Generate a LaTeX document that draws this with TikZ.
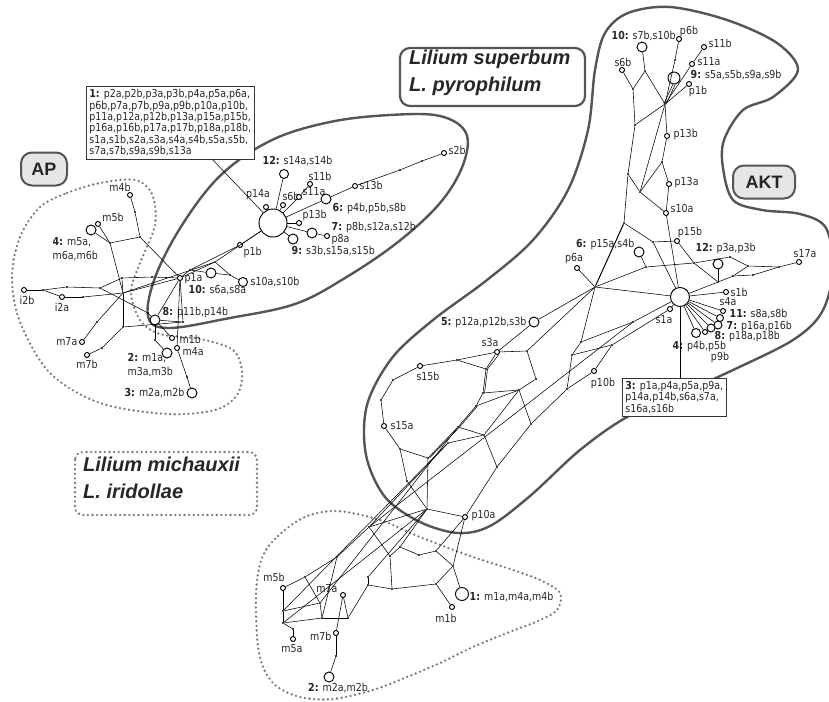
\documentclass[tikz,border=0pt]{standalone}
\usepackage{fontspec}
\setmainfont{DejaVu Sans}[FakeStretch=0.86]
\newfontfamily\titlefont{Liberation Sans}
\usetikzlibrary{calc}
\definecolor{outl}{HTML}{555555}
\definecolor{dotc}{HTML}{7A7A7A}
\definecolor{boxfill}{HTML}{E6E6E6}
\definecolor{txt}{HTML}{262626}
\begin{document}
\begin{tikzpicture}[x=1pt,y=-1pt,
  every node/.style={font=\fontsize{11}{11.4}\selectfont, text=txt},
  dt/.style={circle,fill=black,inner sep=0,minimum size=2.3pt},
  hp/.style={circle,draw=black,line width=0.95pt,fill=white,inner sep=0,minimum size=5pt},
  hm/.style={hp,minimum size=10pt},
  lb/.style={inner sep=0.5pt},
  ed/.style={line width=0.55pt,black},
  sol/.style={draw=outl,line width=2.4pt},
  dotline/.style={draw=dotc,line width=2.6pt,dash pattern=on 0pt off 4.6pt,line cap=round},
  title/.style={font=\titlefont\bfseries\itshape\fontsize{20}{27}\selectfont,text=black!85,align=left,inner sep=0},
  tag/.style={draw=outl,line width=2pt,fill=boxfill,rounded corners=11pt,font=\titlefont\bfseries\fontsize{18}{20}\selectfont,text=black!85,inner sep=0}
]
\useasboundingbox (0,0) rectangle (829,701);

% ---------------- outlines ----------------
\draw[sol] plot[smooth cycle,tension=0.6] coordinates {(148,316) (156,275) (184,222) (222,174) (272,140) (330,122) (390,115) (440,116) (466,133) (463,165) (440,203) (398,242) (345,278) (295,304) (230,318) (168,328)};
\draw[sol] plot[smooth cycle,tension=0.55] coordinates {(366,455) (367,405) (392,358) (433,320) (487,280) (533,240) (568,190) (588,130) (595,70) (605,33) (628,13) (670,7) (727,20) (777,43) (798,70) (773,97) (743,110) (724,140) (723,168) (733,200) (762,210) (800,214) (826,228) (833,270) (822,312) (793,340) (733,370) (680,394) (627,417) (580,450) (530,496) (490,526) (458,533) (420,522) (385,497)};
\draw[dotline] plot[smooth cycle,tension=0.55] coordinates {(40,207) (67,193) (100,183) (135,180) (152,194) (155,225) (140,263) (131,292) (140,320) (160,334) (200,339) (233,350) (242,372) (237,395) (215,410) (167,414) (100,403) (50,373) (20,322) (12,277) (20,237)};
\draw[dotline] plot[smooth cycle,tension=0.55] coordinates {(262,558) (278,536) (305,517) (337,511) (380,520) (420,537) (470,556) (507,568) (540,580) (560,593) (557,610) (538,621) (507,633) (473,647) (440,663) (407,677) (373,690) (333,699) (300,697) (273,683) (259,653) (256,595)};
\draw[dotline,rounded corners=8pt] (75,452) rectangle (257,515);
\node[title,anchor=north west] (mich) at (83,457) {Lilium michauxii\\L. iridollae};
\draw[sol,line width=2.2pt,rounded corners=10pt] (400,48) rectangle (585,106);
\node[title,anchor=north west] (sup) at (409,50) {Lilium superbum\\L. pyrophilum};
\node[tag,minimum width=46pt,minimum height=33pt] (AP) at (44,169) {AP};
\node[tag,minimum width=62pt,minimum height=33pt] (AKT) at (764,182) {AKT};

% ---------------- left (superbum) cluster ----------------
\node[hp,minimum size=28pt] (hL) at (273,223) {};
\node[hp,minimum size=9pt] (c12L) at (284,174) {};
\node[lb,anchor=west] (t12L) at (262,161) {\textbf{12:} s14a,s14b};
\node[hp] (p14aL) at (266,207) {}; \node[lb] (tp14aL) at (258,195) {p14a};
\node[hp] (s6bL) at (283,205) {}; \node[lb] (ts6bL) at (291,196) {s6b};
\node[hp] (s11aL) at (299,197) {}; \node[lb,anchor=west] (ts11aL) at (302,192) {s11a};
\node[hp] (s11bL) at (310,184) {}; \node[lb] (ts11bL) at (320,176) {s11b};
\node[hm] (c6L) at (326,199) {}; \node[lb,anchor=west] (t6L) at (332,208) {\textbf{6:} p4b,p5b,s8b};
\node[hp] (s13bL) at (355,186) {}; \node[lb,anchor=west] (ts13bL) at (359,185) {s13b};
\node[dt] (dL4) at (400,170) {}; \node[dt] (dL5) at (422,161) {};
\node[hp] (s2bL) at (444,153) {}; \node[lb,anchor=west] (ts2bL) at (448,150) {s2b};
\node[hp] (p13bL) at (299,223) {}; \node[lb,anchor=west] (tp13bL) at (302,215) {p13b};
\node[hm] (c7L) at (312,233) {}; \node[lb,anchor=west] (t7L) at (331,227) {\textbf{7:} p8b,s12a,s12b};
\node[hp] (p8aL) at (327,236) {}; \node[lb,anchor=west] (tp8aL) at (331,240) {p8a};
\node[hm] (c9L) at (293,239) {}; \node[lb,anchor=west] (t9L) at (291,251) {\textbf{9:} s3b,s15a,s15b};
\node[hp] (p1bL) at (240,245) {}; \node[lb,anchor=west] (tp1bL) at (243,252) {p1b};
\node[hm] (c10L) at (211,273) {}; \node[lb,anchor=west] (t10L) at (188,290) {\textbf{10:} s6a,s8a};
\node[hm,minimum size=9pt] (s10L) at (243,282) {}; \node[lb,anchor=west] (ts10L) at (250,282) {s10a,s10b};
\node[dt] (dL1) at (215,262) {}; \node[dt] (dL2) at (190,270) {}; \node[dt] (dL3) at (230,275) {};
\node[draw=black!80,line width=0.8pt,fill=white,anchor=north west,align=left,inner sep=3pt] (b1) at (86,86)
 {\textbf{1:} p2a,p2b,p3a,p3b,p4a,p5a,p6a,\\p6b,p7a,p7b,p9a,p9b,p10a,p10b,\\p11a,p12a,p12b,p13a,p15a,p15b,\\p16a,p16b,p17a,p17b,p18a,p18b,\\s1a,s1b,s2a,s3a,s4a,s4b,s5a,s5b,\\s7a,s7b,s9a,s9b,s13a};

% ---------------- AP cluster ----------------
\node[hp] (p1a) at (180,278) {}; \node[lb,anchor=west] (tp1a) at (184,279) {p1a};
\node[hp] (m4b) at (130,195) {}; \node[lb] (tm4b) at (120,187) {m4b};
\node[hp] (m5b) at (98,224) {}; \node[lb] (tm5b) at (113,217) {m5b};
\node[hm] (c4) at (91,230) {};
\node[lb,anchor=west] (t4a) at (52,242) {\textbf{4:} m5a,};
\node[lb,anchor=west] (t4b) at (52,256) {m6a,m6b};
\node[hp] (i2b) at (24,290) {}; \node[lb] (ti2b) at (27,300) {i2b};
\node[hp] (i2a) at (62,297) {}; \node[lb] (ti2a) at (62,307) {i2a};
\node[hm] (c8) at (155,320) {}; \node[lb,anchor=west] (t8) at (162,312) {\textbf{8:} p11b,p14b};
\node[hp] (m1b) at (172,338) {}; \node[lb,anchor=west] (tm1b) at (179,339) {m1b};
\node[hp] (m4a) at (177,348) {}; \node[lb,anchor=west] (tm4a) at (182,352) {m4a};
\node[hm] (c2) at (167,353) {};
\node[lb,anchor=west] (t2a) at (127,358) {\textbf{2:} m1a,};
\node[lb,anchor=west] (t2b) at (127,372) {m3a,m3b};
\node[hp] (m7a) at (82,342) {}; \node[lb,anchor=east] (tm7a) at (78,342) {m7a};
\node[hp] (m7b) at (87,355) {}; \node[lb] (tm7b) at (87,364) {m7b};
\node[hm] (c3) at (192,393) {}; \node[lb,anchor=east] (t3) at (185,393) {\textbf{3:} m2a,m2b};
\foreach \n/\x/\y in {A1/135/212,A2/140/237,A3/110/243,A4/122/278,A5/152/277,A6/123/293,A7/100/288,A8/67/287,A9/43/290,A10/83/297,A11/97/322,A12/123/327,A13/183/322,A14/155/340,A15/102/348,A16/187/377,A20/148/313}
  \node[dt] (\n) at (\x,\y) {};

% ---------------- right (AKT) cluster ----------------
\node[hp,minimum size=19pt] (hR) at (680,297) {};
\node[hm] (c10R) at (642,47) {}; \node[lb,anchor=west] (t10R) at (611,36) {\textbf{10:} s7b,s10b};
\node[hp] (p6bR) at (679,39) {}; \node[lb] (tp6bR) at (689,31) {p6b};
\node[hp] (s11bR) at (704,47) {}; \node[lb,anchor=west] (ts11bR) at (708,43) {s11b};
\node[hp] (s11aR) at (692,64) {}; \node[lb,anchor=west] (ts11aR) at (697,62) {s11a};
\node[hp,minimum size=12pt] (c9R) at (674,78) {}; \node[lb,anchor=west] (t9R) at (690,75) {\textbf{9:} s5a,s5b,s9a,s9b};
\node[hp] (p1bR) at (689,84) {}; \node[lb] (tp1bR) at (698,91) {p1b};
\node[hp] (s6bR) at (622,70) {}; \node[lb] (ts6bR) at (623,62) {s6b};
\node[hp] (p13bR) at (667,136) {}; \node[lb,anchor=west] (tp13bR) at (673,134) {p13b};
\node[hp] (p13aR) at (669,184) {}; \node[lb,anchor=west] (tp13aR) at (674,183) {p13a};
\node[hp] (s10aR) at (666,213) {}; \node[lb,anchor=west] (ts10aR) at (670,208) {s10a};
\node[hp] (p15bR) at (677,241) {}; \node[lb] (tp15bR) at (690,232) {p15b};
\node[hm] (c6R) at (639,252) {}; \node[lb,anchor=east] (t6R) at (635,244) {\textbf{6:} p15a,s4b};
\node[hp] (p6aR) at (577,268) {}; \node[lb] (tp6aR) at (574,259) {p6a};
\node[hm] (c12R) at (718,264) {}; \node[lb,anchor=west] (t12R) at (695,248) {\textbf{12:} p3a,p3b};
\node[hp] (s17aR) at (799,262) {}; \node[lb] (ts17aR) at (805,254) {s17a};
\node[hp] (s1bR) at (726,292) {}; \node[lb,anchor=west] (ts1bR) at (730,292) {s1b};
\node[hp] (s4aR) at (723,311) {}; \node[lb] (ts4aR) at (728,302) {s4a};
\node[hp] (s1aR) at (670,309) {}; \node[lb] (ts1aR) at (664,320) {s1a};
\node[hp,minimum size=7pt] (c11R) at (720,318) {}; \node[lb,anchor=west] (t11R) at (729,314) {\textbf{11:} s8a,s8b};
\node[hp,minimum size=8pt] (c7R) at (718,325) {}; \node[lb,anchor=west] (t7R) at (726,326) {\textbf{7:} p16a,p16b};
\node[hp,minimum size=8pt] (c8R) at (711,328) {}; \node[lb,anchor=west] (t8R) at (714,336) {\textbf{8:} p18a,p18b};
\node[hp] (p9bR) at (705,332) {}; \node[lb] (tp9bR) at (720,357) {p9b};
\node[hp,minimum size=9pt] (c4R) at (696,333) {}; \node[lb,anchor=west] (t4R) at (672,346) {\textbf{4:} p4b,p5b};
\node[hp] (p10bR) at (594,371) {}; \node[lb] (tp10bR) at (603,383) {p10b};
\node[draw=black!80,line width=0.8pt,fill=white,anchor=north west,align=left,inner sep=3pt] (b3) at (622,378)
 {\textbf{3:} p1a,p4a,p5a,p9a,\\p14a,p14b,s6a,s7a,\\s16a,s16b};
\foreach \n/\x/\y in {R1/645/71,R2/633/89,R3/665/104,R4/675/60,R5/635/125,R6/662/162,R7/628/174,R8/640/192,R9/624/223,R10/653/242,R11/646/267,J/595/287,R12/694/263,R13/730/257,R14/748/266,R15/779/267,R16/733/276,R17/753/275,R18/718/282,R19/633/322,R20/612/345,R21/581/342,R22/572/355,R23/567/389}
  \node[dt] (\n) at (\x,\y) {};

% ---------------- middle network ----------------
\node[hm] (c5) at (534,322) {}; \node[lb,anchor=east] (t5) at (527,322) {\textbf{5:} p12a,p12b,s3b};
\node[hp] (s3a) at (497,352) {}; \node[lb] (ts3a) at (490,342) {s3a};
\node[hp] (s15b) at (420,366) {}; \node[lb] (ts15b) at (428,376) {s15b};
\node[hp] (s15a) at (384,426) {}; \node[lb,anchor=west] (ts15a) at (390,426) {s15a};
\node[hp] (p10a) at (465,517) {}; \node[lb,anchor=west] (tp10a) at (471,516) {p10a};
\foreach \n/\x/\y in {M1/527/351,M2/457/360,M3/486/369,M4/483/393,M5/519/390,M6/536/379,M7/476/406,M14/531/424,L1/393/380,L2/381/400,L3/400/449,L4/428/458,L5/407/481,L6/427/509,L7/458/427,L8/484/435,L9/448/443,L10/497/467}
  \node[dt] (\n) at (\x,\y) {};

% ---------------- bottom (michauxii) cluster ----------------
\node[hp] (m5bB) at (283,588) {}; \node[lb] (tm5bB) at (274,577) {m5b};
\node[hp] (m7aB) at (343,595) {}; \node[lb,anchor=east] (tm7aB) at (338,589) {m7a};
\node[hp] (m5aB) at (293,639) {}; \node[lb] (tm5aB) at (292,649) {m5a};
\node[hp] (m7bB) at (336,633) {}; \node[lb,anchor=east] (tm7bB) at (332,636) {m7b};
\node[hm] (c2B) at (329,677) {}; \node[lb] (t2B) at (338,688) {\textbf{2:} m2a,m2b};
\node[hp] (m1bB) at (452,607) {}; \node[lb] (tm1bB) at (446,618) {m1b};
\node[hp,minimum size=13pt] (c1B) at (462,594) {}; \node[lb,anchor=west] (t1B) at (469,597) {\textbf{1:} m1a,m4a,m4b};
\foreach \n/\x/\y in {B1/305/577,B2/283/611,B3/283/623,B4/293/629,B5/320/603,B6/322/618,B7/348/618,B9/336/656,B10/368/577,B11/368/585,B12/392/589,B13/436/584,B14/453/566,K1/369/527,K2/337/557,K3/390/556,K4/400/547,K5/419/555,K6/436/551}
  \node[dt] (\n) at (\x,\y) {};

% ---------------- edges ----------------
\draw[ed] ($(b1.south west)!0.75!(b1.south east)$) -- (hL);
\foreach \a/\b in {hL/c12L,hL/p14aL,hL/s6bL,hL/s11aL,s11aL/s11bL,hL/c6L,c6L/s13bL,s13bL/dL4,dL4/dL5,dL5/s2bL,hL/p13bL,hL/c7L,c7L/p8aL,hL/c9L,hL/p1bL,p1bL/dL2,hL/dL1,dL1/dL3,dL3/s10L,c10L/dL3,dL2/c10L,dL2/p1a,dL1/p1a,
  m4b/A1,A1/A2,A2/A3,m5b/A3,c4/A3,A3/A6,A2/p1a,A4/A5,A5/p1a,i2b/A9,A9/A8,A8/A7,A7/A4,A7/A20,A20/c8,A9/i2a,i2a/A10,A10/A6,A6/A12,A6/p1a,A6/A11,A11/m7a,m7b/A15,A15/A12,A12/A13,A13/p1a,c8/p1a,c8/A13,c8/A14,A14/c2,c8/m1b,p1a/m4a,m4a/A16,A16/c3,A6/dL1,A4/A6,
  c10R/R1,R1/R2,s6bR/R2,R2/R5,R1/R3,p6bR/R4,R4/R3,R3/s11aR,s11aR/s11bR,p1bR/R3,R3/R5,R3/p13bR,p13bR/R6,R6/p13aR,p13aR/s10aR,R6/R8,R5/R7,R7/R8,R3/R8,R7/R9,R8/s10aR,s10aR/hR,R9/R10,R10/p15bR,R10/hR,J/p6aR,J/hR,J/R11,c6R/R11,R11/R12,p15bR/R12,R12/R13,R13/R14,R14/R15,R15/s17aR,R12/R18,R18/R16,R16/R17,R17/R15,R14/R16,c12R/R18,R18/hR,hR/s1bR,hR/s4aR,hR/c11R,hR/c7R,hR/c8R,hR/p9bR,hR/c4R,hR/s1aR,hR/R19,R19/R21,s1aR/R20,R20/R22,R20/p10bR,p10bR/R23,R21/R22,R22/R23,J/R21,
  J/c5,c5/s3a,s3a/M1,J/M1,s15b/M2,M2/s3a,M2/M3,s3a/M3,M3/M4,M4/M7,M1/M6,M6/M5,M4/M5,M7/M5,M5/M14,R23/M14,M14/L10,L10/p10a,M7/L7,L7/L4,L7/L8,L9/L8,L8/M5,L8/L10,
  s15b/L1,L1/L2,L2/s15a,s15a/L3,L3/L4,L3/L5,L5/L6,L4/L6,L6/p10a,
  m5bB/B1,m5bB/B2,B1/K2,K2/K1,B1/B5,B2/B3,B3/B4,B4/m5aB,B2/B5,B5/B6,B3/B6,B6/B7,B7/m7aB,m7aB/m7bB,m7bB/B9,B9/c2B,B7/B11,B10/B11,B11/B12,B12/B13,B13/B14,B14/c1B,B13/m1bB,B12/K3,K3/K4,K4/K5,K5/K6,K6/B14,K6/p10a,B14/p10a,K1/K3,L6/K4,L6/B10,L6/B3,L9/B2,L7/B5,K2/B6,L9/K1,K1/R19,L6/K1}
  \draw[ed] (\a) -- (\b);
\draw[ed,line width=1pt] (R9) -- (J);
\draw[ed] ([xshift=-1.2pt]c9R.south) -- ([xshift=-1.2pt]R3.center);
\draw[ed] ([xshift=1.2pt]c9R.south) -- ([xshift=1.2pt]R3.center);
\draw[ed] ([xshift=1.5pt]s3a.south) -- ([xshift=1.5pt]M3.center) -- ([xshift=1.5pt]M4.center);
\draw[ed] ([xshift=1.5pt]L4.center) -- ([xshift=1.5pt]L7.center) -- ([xshift=1.5pt]M7.center);
\draw[ed] (hR) -- (hR |- b3.north);
\end{tikzpicture}
\end{document}
